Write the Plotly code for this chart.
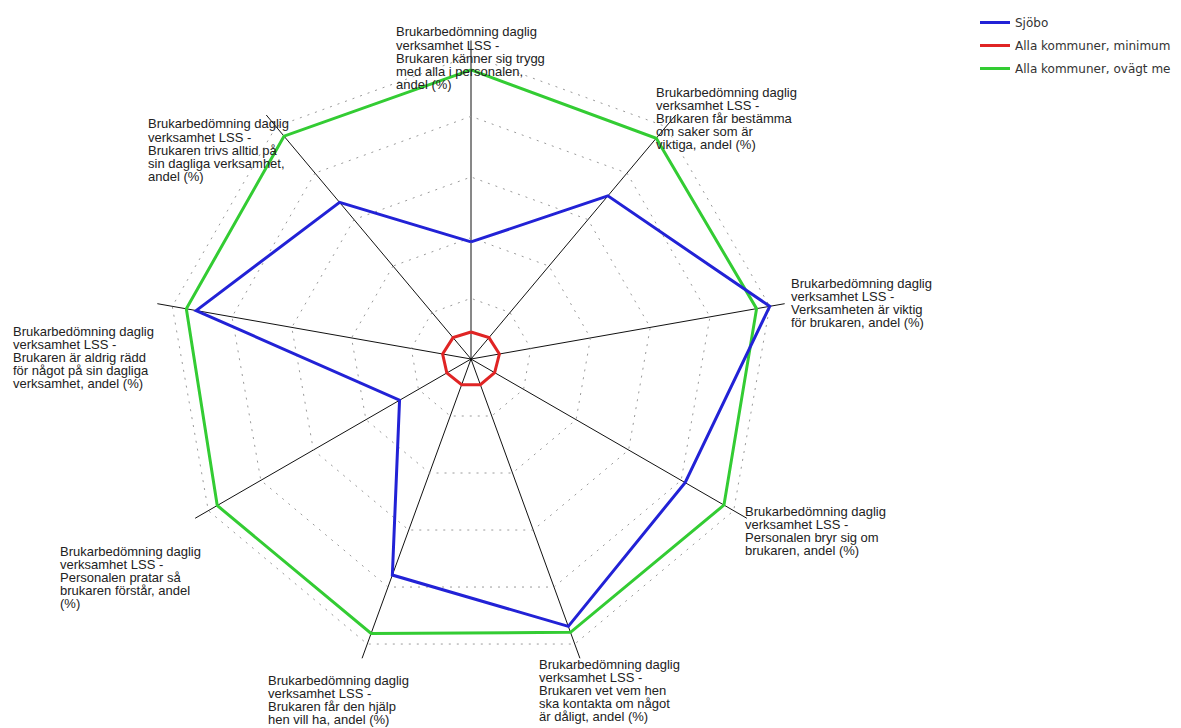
import plotly.graph_objects as go

# page body has an 8px margin at top/left; the figure fills the rest of the window
PAGE_W, PAGE_H = 1181, 728
OFF = 8
W, H = PAGE_W - OFF, PAGE_H - OFF

# ---- data ----
label_lines = [
    ["Brukarbedömning daglig", "verksamhet LSS -", "Brukaren känner sig trygg", "med alla i personalen,", "andel (%)"],
    ["Brukarbedömning daglig", "verksamhet LSS -", "Brukaren får bestämma", "om saker som är", "viktiga, andel (%)"],
    ["Brukarbedömning daglig", "verksamhet LSS -", "Verksamheten är viktig", "för brukaren, andel (%)"],
    ["Brukarbedömning daglig", "verksamhet LSS -", "Personalen bryr sig om", "brukaren, andel (%)"],
    ["Brukarbedömning daglig", "verksamhet LSS -", "Brukaren vet vem hen", "ska kontakta om något", "är dåligt, andel (%)"],
    ["Brukarbedömning daglig", "verksamhet LSS -", "Brukaren får den hjälp", "hen vill ha, andel (%)"],
    ["Brukarbedömning daglig", "verksamhet LSS -", "Personalen pratar så", "brukaren förstår, andel", "(%)"],
    ["Brukarbedömning daglig", "verksamhet LSS -", "Brukaren är aldrig rädd", "för något på sin dagliga", "verksamhet, andel (%)"],
    ["Brukarbedömning daglig", "verksamhet LSS -", "Brukaren trivs alltid på", "sin dagliga verksamhet,", "andel (%)"],
]
categories = [" ".join(l) for l in label_lines]

sjobo = [38.6, 70.2, 100.0, 81.5, 93.8, 75.8, 27.2, 92.0, 67.4]
alla_min = [8.9, 9.2, 9.5, 9.0, 9.0, 9.0, 9.2, 9.5, 9.2]
alla_ovagt = [95.3, 95.0, 95.6, 96.3, 95.9, 96.3, 96.6, 95.3, 95.9]

series_names = ["Sjöbo", "Alla kommuner, minimum", "Alla kommuner, ovägt me"]

# ---- layout positions (page pixels) ----
label_pos = [(394, 32), (654, 92), (789, 283), (743, 511), (537, 664),
             (266, 680), (58, 551), (11, 331), (146, 124)]
line_step = 13.2
cx, cy, R = 471, 359, 318.5

colors = {"Sjöbo": "#2222d6", "Alla kommuner, minimum": "#e02424",
          "Alla kommuner, ovägt me": "#33cc33"}


def px_x(x):
    return (x - OFF) / W


def px_y(y):
    return 1 - (y - OFF) / H


def closed(v):
    return list(v) + [v[0]]


fig = go.Figure()
series = [(series_names[2], alla_ovagt, 3), (series_names[1], alla_min, 2), (series_names[0], sjobo, 1)]
for name, vals, rank in series:
    fig.add_trace(go.Scatterpolar(
        r=closed(vals), theta=closed(categories), mode="lines", name=name,
        line=dict(color=colors[name], width=3), legendrank=rank,
        legendgroup=name, hoverinfo="skip"))

annotations = []
for lines, (x0, y0) in zip(label_lines, label_pos):
    for i, t in enumerate(lines):
        annotations.append(dict(
            x=px_x(x0), y=px_y(y0 + i * line_step), xref="paper", yref="paper",
            xanchor="left", yanchor="middle", text=t, showarrow=False,
            font=dict(family="Liberation Sans, Arial, sans-serif", size=13, color="#222222")))

fig.update_layout(
    width=W, height=H, margin=dict(l=0, r=0, t=0, b=0),
    paper_bgcolor="white", plot_bgcolor="white",
    polar=dict(
        domain=dict(x=[px_x(cx - R), px_x(cx + R)], y=[px_y(cy + R), px_y(cy - R)]),
        bgcolor="white", gridshape="linear",
        radialaxis=dict(range=[0, 105], tickvals=[20, 40, 60, 80, 100], showticklabels=False,
                        ticks="", showline=False, gridcolor="#9a9a9a", gridwidth=1,
                        griddash="2px,6px"),
        angularaxis=dict(rotation=90, direction="clockwise", showticklabels=False, ticks="",
                         showline=False, gridcolor="#111111", gridwidth=1,
                         type="category", categoryarray=categories),
    ),
    legend=dict(x=px_x(975), y=1, xanchor="left", yanchor="top",
                font=dict(family="DejaVu Sans", size=12, color="#333333"),
                bgcolor="rgba(0,0,0,0)", tracegroupgap=4, itemwidth=30),
    annotations=annotations,
    showlegend=True,
)

fig.write_html("out.html")
